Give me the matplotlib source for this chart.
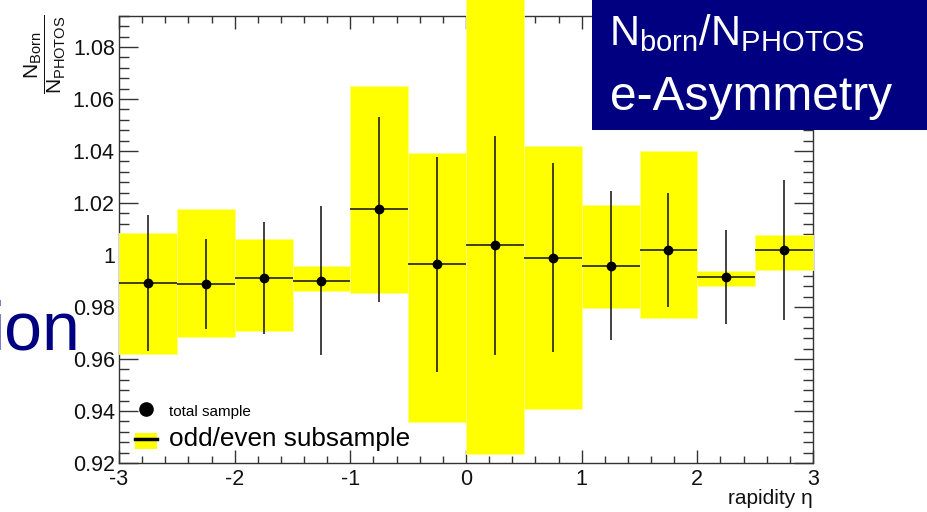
import numpy as np
import matplotlib
matplotlib.use('Agg')
import matplotlib.pyplot as plt
from matplotlib.patches import Rectangle, Patch
from matplotlib.lines import Line2D
from matplotlib.ticker import MultipleLocator, FuncFormatter

plt.rcParams['font.family'] = ['Liberation Sans', 'DejaVu Sans']
plt.rcParams['mathtext.fontset'] = 'custom'
plt.rcParams['mathtext.rm'] = 'Liberation Sans'
plt.rcParams['mathtext.it'] = 'Liberation Sans:italic'
plt.rcParams['mathtext.bf'] = 'Liberation Sans:bold'

# rapidity bins (width 0.5) and bin centres
bin_width = 0.5
eta = [-2.75, -2.25, -1.75, -1.25, -0.75, -0.25, 0.25, 0.75, 1.25, 1.75, 2.25, 2.75]

# total sample: ratio N_Born/N_PHOTOS and its error bar ends
ratio  = [0.9891, 0.9887, 0.9913, 0.9900, 1.0176, 0.9964, 1.0037, 0.9990, 0.9959, 1.0020, 0.9915, 1.0019]
err_lo = [0.9632, 0.9714, 0.9697, 0.9614, 0.9818, 0.9551, 0.9615, 0.9626, 0.9673, 0.9800, 0.9735, 0.9749]
err_hi = [1.0154, 1.0063, 1.0128, 1.0188, 1.0532, 1.0377, 1.0457, 1.0353, 1.0246, 1.0240, 1.0096, 1.0288]

# odd/even subsample spread (yellow band)
band_lo = [0.9620, 0.9685, 0.9707, 0.9860, 0.9854, 0.9359, 0.9235, 0.9407, 0.9796, 0.9758, 0.9882, 0.9942]
band_hi = [1.0083, 1.0177, 1.0060, 0.9959, 1.0651, 1.0392, 1.1000, 1.0420, 1.0192, 1.0401, 0.9937, 1.0077]

eta = np.array(eta)
ratio = np.array(ratio)
err_lo = np.array(err_lo)
err_hi = np.array(err_hi)
band_lo = np.array(band_lo)
band_hi = np.array(band_hi)

fig = plt.figure(figsize=(9.27, 5.12), dpi=100)
ax = fig.add_axes([119/927, 1-463/512, 694/927, (463-15.7)/512])

axcol = '#333333'
bars = ax.bar(eta, band_hi-band_lo, bottom=band_lo, width=bin_width,
              color='#ffff00', edgecolor='#ffff80', linewidth=0.6, zorder=1)
for b in bars:
    b.set_clip_on(False)

ax.errorbar(eta, ratio, xerr=bin_width/2, yerr=[ratio-err_lo, err_hi-ratio],
            fmt='none', ecolor='black', elinewidth=1.3, alpha=0.8, capsize=0, zorder=3)
ax.plot(eta, ratio, 'o', color='black', ms=6, zorder=4)

ax.set_xlim(-3, 3)
ax.set_ylim(0.92, 1.092)
ax.set_axisbelow(True)
for s in ax.spines.values():
    s.set_color(axcol)
    s.set_linewidth(1.0)
    s.set_zorder(0.5)

ax.xaxis.set_major_locator(MultipleLocator(1))
ax.xaxis.set_minor_locator(MultipleLocator(0.2))
ax.yaxis.set_major_locator(MultipleLocator(0.02))
ax.yaxis.set_minor_locator(MultipleLocator(0.004))
ax.xaxis.set_major_formatter(FuncFormatter(lambda v, p: f'{v:g}'))
ax.yaxis.set_major_formatter(FuncFormatter(lambda v, p: f'{round(v, 3):g}'))

ax.tick_params(which='both', direction='in', top=True, right=True, color=axcol,
               width=1.0, labelsize=15.5, labelcolor='#111111')
ax.tick_params(axis='x', which='major', length=9.4, pad=4)
ax.tick_params(axis='x', which='minor', length=5)
ax.tick_params(axis='y', which='major', length=13.7, pad=3)
ax.tick_params(axis='y', which='minor', length=7.2)

# axis titles
fig.text(813/927, 1-498/512, 'rapidity η', ha='right', va='center', fontsize=15, color='#111111')
fig.text(45/927, 1-14/512,
         r'$\dfrac{\mathrm{N}_{\mathrm{Born}}}{\mathrm{N}_{\mathrm{PHOTOS}}}$',
         rotation=90, ha='center', va='top', fontsize=15, color='#111111')

# legend
handles = [Line2D([], [], marker='o', ls='none', color='black', ms=9.5),
           (Patch(facecolor='#ffff00', edgecolor='none'), Line2D([], [], color='black', lw=2.5))]
leg = ax.legend(handles, ['total sample', 'odd/even subsample'], loc='lower left',
                bbox_to_anchor=(0.0125, 0.0095), frameon=False, fontsize=11,
                handlelength=1.44, handleheight=1.3, handletextpad=0.75,
                labelspacing=0.55, borderpad=0)
leg.get_texts()[1].set_fontsize(18.8)

# slide overlays
navy = '#000080'
fig.add_artist(Rectangle((592/927, 1-130/512), (927-592)/927, 130/512,
                         transform=fig.transFigure, facecolor=navy, edgecolor='none', zorder=10))
fig.text(609/927, 1-45/512, r'$\mathregular{N_{born}/N_{PHOTOS}}$', ha='left', va='baseline',
         fontsize=30, color='white', zorder=11)
fig.text(610/927, 1-110/512, 'e-Asymmetry', ha='left', va='baseline',
         fontsize=34.5, color='white', zorder=11)
fig.text(80/927, 1-349/512, 'ion', ha='right', va='baseline', fontsize=49, color=navy, zorder=11)

fig.savefig('out.png', dpi=100)
